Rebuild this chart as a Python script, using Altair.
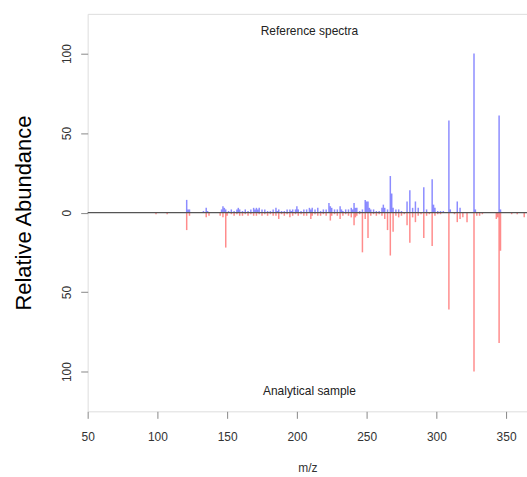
import altair as alt
import pandas as pd

# Reference spectrum (plotted upward, blue)
ref_mz = [121, 122, 123, 133, 135, 136, 146, 147, 148, 149, 151, 153, 155, 157, 158, 159,
          161, 163, 165, 167, 169, 170, 171, 172, 173, 175, 177, 179, 181, 183, 185, 186,
          187, 189, 191, 193, 195, 196, 197, 199, 200, 201, 203, 205, 207, 209, 210, 211,
          213, 215, 217, 219, 221, 223, 224, 225, 227, 229, 231, 232, 233, 235, 237, 239,
          240, 241, 242, 243, 245, 247, 249, 250, 251, 252, 253, 255, 257, 259, 261, 262,
          263, 265, 267, 268, 269, 271, 273, 275, 279, 281, 283, 285, 287, 291, 293, 297,
          298, 299, 301, 303, 305, 309, 310, 315, 317, 327, 328, 345, 346]
ref_int = [8, 2, 2, 1, 3, 1, 2, 4, 3, 2, 1, 2, 1, 2, 3, 2,
           1, 2, 1, 2, 3, 2, 3, 2, 3, 2, 2, 1, 1, 2, 3, 1,
           2, 1, 1, 2, 2, 1, 2, 2, 4, 2, 1, 2, 2, 3, 2, 3,
           2, 3, 1, 2, 2, 6, 4, 3, 2, 2, 4, 2, 1, 2, 2, 3,
           2, 6, 3, 3, 1, 2, 8, 7, 7, 3, 2, 2, 1, 1, 3, 5,
           3, 2, 23, 12, 3, 2, 2, 1, 7, 14, 3, 7, 3, 16, 2, 21,
           5, 3, 1, 1, 1, 58, 2, 7, 3, 100, 2, 61, 2]

# Analytical sample spectrum (plotted downward, red)
smp_mz = [99, 107, 121, 123, 135, 137, 145, 147, 149, 150, 153, 155, 157, 159, 161, 163,
          165, 167, 169, 171, 173, 175, 177, 179, 181, 183, 185, 187, 189, 191, 193, 195,
          197, 199, 201, 203, 205, 207, 210, 211, 213, 215, 217, 219, 221, 224, 225, 227,
          229, 231, 233, 235, 237, 239, 241, 242, 243, 245, 247, 249, 251, 253, 255, 257,
          259, 261, 263, 265, 267, 269, 271, 273, 275, 277, 279, 281, 283, 285, 287, 289,
          291, 293, 295, 297, 299, 301, 303, 309, 313, 315, 317, 319, 322, 327, 329, 331,
          333, 343, 344, 345, 346, 354, 358, 363]
smp_int = [1, 1, 11, 2, 3, 2, 2, 3, 22, 2, 1, 2, 1, 2, 2, 1,
           2, 1, 2, 2, 1, 2, 1, 2, 1, 2, 2, 4, 1, 2, 1, 3,
           2, 1, 2, 1, 2, 2, 4, 2, 1, 2, 2, 1, 2, 5, 2, 1,
           2, 4, 2, 1, 2, 3, 8, 3, 2, 1, 25, 4, 16, 2, 1, 2,
           1, 2, 4, 11, 27, 12, 2, 3, 2, 1, 8, 19, 3, 6, 2, 1,
           16, 2, 1, 21, 2, 1, 1, 61, 1, 6, 4, 3, 6, 100, 2, 2,
           1, 4, 3, 82, 24, 1, 1, 3]

label_top = "Reference spectra"
label_bottom = "Analytical sample"

ref_df = pd.DataFrame({"mz": ref_mz, "ab": ref_int, "zero": 0})
smp_df = pd.DataFrame({"mz": smp_mz, "ab": [-v for v in smp_int], "zero": 0})
txt_df = pd.DataFrame({"mz": [209, 209], "ab": [114, -112], "t": [label_top, label_bottom]})

FONT = "Liberation Sans"
xscale = alt.Scale(domain=[50, 365], nice=False, zero=False)
yscale = alt.Scale(domain=[-125, 125], nice=False)

xaxis = alt.Axis(values=[50, 100, 150, 200, 250, 300, 350], domain=False, grid=False,
                 tickColor="#888888", tickSize=7, tickWidth=1, labelFontSize=12,
                 labelColor="#333333", labelFont=FONT, labelPadding=13, labelFlush=False,
                 title="m/z", titleFont=FONT, titleFontSize=12, titleFontWeight="normal",
                 titleColor="#333333", titlePadding=20)
yaxis = alt.Axis(values=[-100, -50, 0, 50, 100], domain=False, grid=False,
                 tickColor="#888888", tickSize=7, tickWidth=1, labelFontSize=12,
                 labelColor="#333333", labelFont=FONT, labelAngle=270, labelPadding=7,
                 labelExpr="'' + abs(datum.value)",
                 title="Relative Abundance", titleFont=FONT, titleFontSize=22,
                 titleFontWeight="normal", titleColor="#000000", titlePadding=25)

base_x = alt.X("mz:Q", scale=xscale, axis=xaxis)

ref = alt.Chart(ref_df).mark_rule(color="#0000ff", opacity=0.45, strokeWidth=1.5).encode(
    x=base_x, y=alt.Y("ab:Q", scale=yscale, axis=yaxis), y2="zero:Q")
smp = alt.Chart(smp_df).mark_rule(color="#ff0000", opacity=0.45, strokeWidth=1.5).encode(
    x=alt.X("mz:Q", scale=xscale), y=alt.Y("ab:Q", scale=yscale), y2="zero:Q")
zero = alt.Chart(pd.DataFrame({"z": [0]})).mark_rule(color="#555555", strokeWidth=1.2).encode(
    y=alt.Y("z:Q", scale=yscale))
txt = alt.Chart(txt_df).mark_text(font=FONT, fontSize=12, color="#222222").encode(
    x=alt.X("mz:Q", scale=xscale), y=alt.Y("ab:Q", scale=yscale), text="t:N")

chart = alt.layer(ref, smp, zero, txt).properties(
    width=441, height=399,
    autosize=alt.AutoSizeParams(type="none"),
    padding={"left": 88, "top": 13, "right": 0, "bottom": 65},
).configure_view(stroke="#888888", strokeWidth=1).configure(background="white")

chart.save("out.html", embed_options={"renderer": "svg", "actions": False})
